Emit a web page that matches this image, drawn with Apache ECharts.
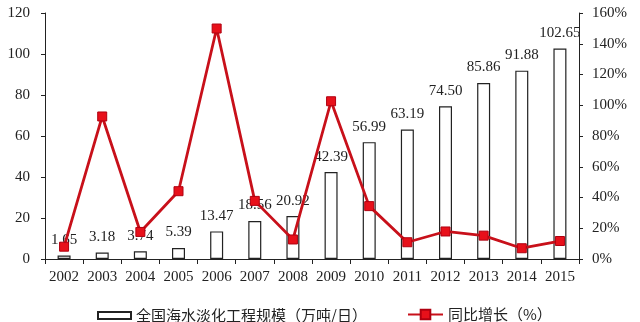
<!DOCTYPE html>
<html><head><meta charset="utf-8">
<script src="https://cdn.jsdelivr.net/npm/echarts@6/dist/echarts.min.js"></script>
<style>html,body{margin:0;padding:0;background:#fff}#c{width:640px;height:322px}</style>
</head><body><div id="c"></div>
<script>
const years = ['2002','2003','2004','2005','2006','2007','2008','2009','2010','2011','2012','2013','2014','2015'];
const scale = [1.65,3.18,3.74,5.39,13.47,18.56,20.92,42.39,56.99,63.19,74.50,85.86,91.88,102.65];
const growth = [8,92.7,17.6,44.1,149.9,37.8,12.7,102.6,34.4,10.9,17.9,15.2,7.0,11.7];
const leftTicks = {min:0,max:120,interval:20};
const rightTicks = {min:0,max:160,interval:20};
const barName = '全国海水淡化工程规模（万吨/日）';
const lineName = '同比增长（%）';

const serif = 'Liberation Serif';
const chart = echarts.init(document.getElementById('c'));
chart.setOption({
  animation:false,
  backgroundColor:'#fff',
  grid:{left:45,right:61,top:13,bottom:63},
  legend:[
    {data:[{name:barName,icon:'rect'}],left:92,top:303,itemWidth:33,itemHeight:7,itemGap:10,
     textStyle:{fontFamily:'Noto Sans CJK SC',fontSize:15,color:'#222'}},
    {data:[{name:lineName}],left:402,top:302,itemWidth:35,itemHeight:12,
     textStyle:{fontFamily:'Noto Sans CJK SC',fontSize:15,color:'#222'}}
  ],
  xAxis:{type:'category',data:years,
    axisLine:{lineStyle:{color:'#222',width:1}},
    axisTick:{show:true,lineStyle:{color:'#222'},length:5},
    axisLabel:{fontFamily:serif,fontSize:15,color:'#222',margin:11,interval:0}},
  yAxis:[
    {type:'value',min:leftTicks.min,max:leftTicks.max,interval:leftTicks.interval,
     axisLine:{show:true,lineStyle:{color:'#222'}},
     axisTick:{show:true,length:4,lineStyle:{color:'#222'}},
     splitLine:{show:false},
     axisLabel:{fontFamily:serif,fontSize:15,color:'#222',margin:15}},
    {type:'value',min:rightTicks.min,max:rightTicks.max,interval:rightTicks.interval,position:'right',
     axisLine:{show:true,lineStyle:{color:'#222'}},
     axisTick:{show:true,length:4,lineStyle:{color:'#222'}},
     splitLine:{show:false},
     axisLabel:{fontFamily:serif,fontSize:15,color:'#222',margin:13,formatter:'{value}%'}}
  ],
  series:[
    {name:barName,type:'bar',data:scale,barWidth:13,yAxisIndex:0,
     itemStyle:{color:'#fff',borderColor:'#222',borderWidth:1.2},
     label:{show:true,position:'top',distance:8,fontFamily:serif,fontSize:15,color:'#222',
       formatter:p=>p.value.toFixed(2)}},
    {name:lineName,type:'line',data:growth,yAxisIndex:1,
     symbol:'rect',symbolSize:9,
     lineStyle:{color:'#c8101a',width:2.8},
     itemStyle:{color:'#e8101a',borderColor:'#b00010',borderWidth:1},
     z:5}
  ]
});
</script></body></html>
